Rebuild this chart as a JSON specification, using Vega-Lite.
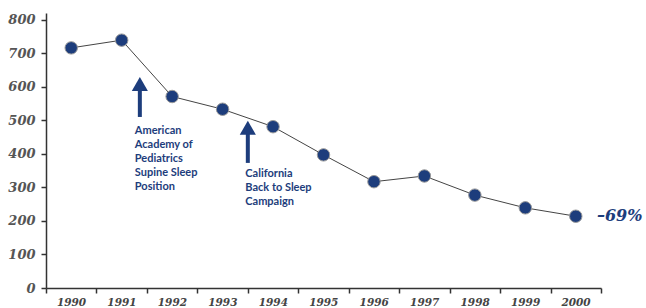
{
  "$schema": "https://vega.github.io/schema/vega-lite/v6.json",
  "width": 555,
  "height": 275,
  "autosize": "none",
  "padding": {"left": 46, "top": 13, "right": 45, "bottom": 20},
  "background": "white",
  "config": {"view": {"stroke": null}},
  "datasets": {
    "deaths": [
      {"year": 1990, "value": 716},
      {"year": 1991, "value": 739},
      {"year": 1992, "value": 571},
      {"year": 1993, "value": 533},
      {"year": 1994, "value": 481},
      {"year": 1995, "value": 397},
      {"year": 1996, "value": 317},
      {"year": 1997, "value": 334},
      {"year": 1998, "value": 277},
      {"year": 1999, "value": 239},
      {"year": 2000, "value": 214}
    ],
    "shafts": [
      {"year": 1991.36, "value": 510, "value2": 595},
      {"year": 1993.5, "value": 373, "value2": 466}
    ],
    "heads": [
      {"year": 1991.36, "value": 608},
      {"year": 1993.5, "value": 478}
    ],
    "notes": [
      {"year": 1991.26, "value": 486, "label": "American\nAcademy of\nPediatrics\nSupine Sleep\nPosition"},
      {"year": 1993.45, "value": 358, "label": "California\nBack to Sleep\nCampaign"}
    ],
    "pct": [
      {"year": 2000.42, "value": 215, "label": "–69%"}
    ]
  },
  "encoding": {
    "x": {
      "field": "year", "type": "quantitative", "title": null,
      "scale": {"domain": [1989.5, 2000.5], "nice": false, "zero": false},
      "axis": {
        "title": null, "grid": false,
        "values": [1989.5, 1990.5, 1991.5, 1992.5, 1993.5, 1994.5, 1995.5, 1996.5, 1997.5, 1998.5, 1999.5, 2000.5],
        "labelExpr": "datum.value < 2000 ? format(datum.value + 0.5, 'd') : ''",
        "labelOffset": 25,
        "labelFont": "DejaVu Serif", "labelFontStyle": "italic", "labelFontWeight": "bold",
        "labelFontSize": 10.5, "labelColor": "#444444", "labelPadding": 4,
        "labelFlush": false, "labelOverlap": false, "labelBound": false,
        "domainColor": "#333333", "domainWidth": 1.5,
        "tickColor": "#333333", "tickWidth": 1.5, "tickSize": 5
      }
    },
    "y": {
      "field": "value", "type": "quantitative", "title": null,
      "scale": {"domain": [0, 820], "nice": false, "zero": true},
      "axis": {
        "title": null, "grid": false,
        "values": [0, 100, 200, 300, 400, 500, 600, 700, 800],
        "tickCount": 9,
        "labelOverlap": false, "labelFlush": false, "labelBound": false,
        "labelFont": "DejaVu Serif", "labelFontStyle": "italic", "labelFontWeight": "bold",
        "labelFontSize": 13, "labelColor": "#555555", "labelPadding": 6,
        "domainColor": "#333333", "domainWidth": 1.5,
        "tickColor": "#333333", "tickWidth": 1.5, "tickSize": 5
      }
    }
  },
  "layer": [
    {
      "data": {"name": "deaths"},
      "mark": {"type": "line", "color": "#444444", "strokeWidth": 1}
    },
    {
      "data": {"name": "deaths"},
      "mark": {"type": "point", "filled": true, "fill": "#1d3d7c", "fillOpacity": 1, "stroke": "#9a9a9a", "strokeWidth": 1, "size": 155}
    },
    {
      "data": {"name": "shafts"},
      "mark": {"type": "rule", "color": "#1d3d7c", "strokeWidth": 4},
      "encoding": {"y2": {"field": "value2"}}
    },
    {
      "data": {"name": "heads"},
      "mark": {"type": "point", "shape": "triangle-up", "filled": true, "color": "#1d3d7c", "fillOpacity": 1, "size": 260}
    },
    {
      "data": {"name": "notes"},
      "mark": {"type": "text", "align": "left", "baseline": "top", "lineBreak": "\n", "lineHeight": 14, "font": "Lato", "fontWeight": "bold", "fontSize": 11, "color": "#1d3d7c"},
      "encoding": {"text": {"field": "label"}}
    },
    {
      "data": {"name": "pct"},
      "mark": {"type": "text", "align": "left", "baseline": "middle", "font": "DejaVu Serif", "fontStyle": "italic", "fontWeight": "bold", "fontSize": 16, "color": "#1d3d7c"},
      "encoding": {"text": {"field": "label"}}
    }
  ]
}
